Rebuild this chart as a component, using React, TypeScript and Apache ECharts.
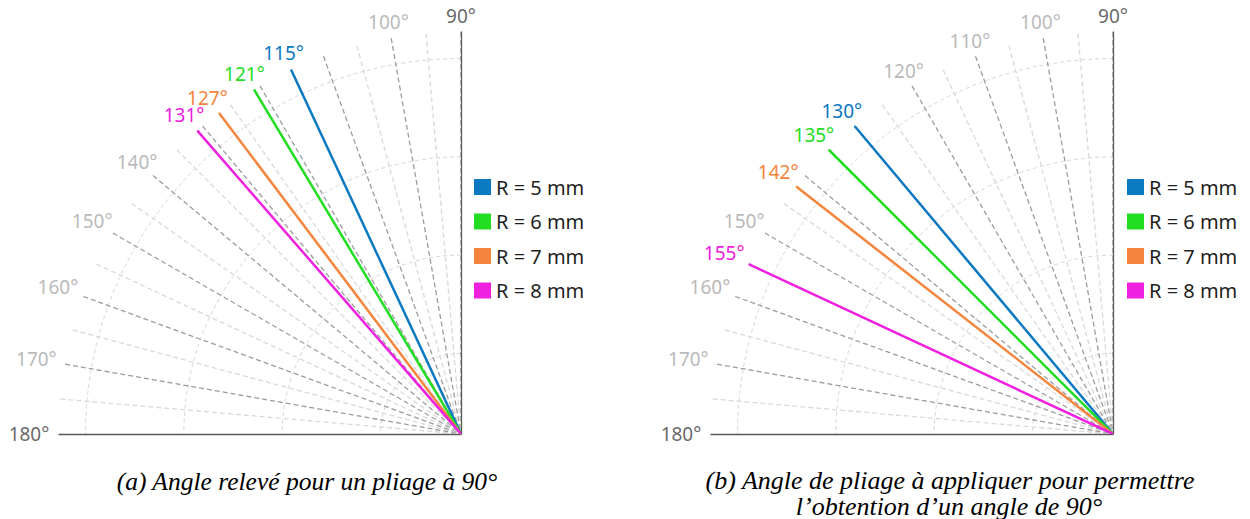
import React, { useEffect, useRef } from 'react';
import * as echarts from 'echarts';

// ---- data ----
const seriesNames = ['R = 5 mm', 'R = 6 mm', 'R = 7 mm', 'R = 8 mm'];
const seriesColors = ['#0b78c2', '#22dd22', '#f5843c', '#f020e0'];
const measuredAngles = [115, 121, 127, 131]; // (a) angle relevé
const appliedAngles = [130, 135, 142, 155]; // (b) angle à appliquer
const angleTickLabels = [90, 100, 110, 120, 130, 140, 150, 160, 170, 180];
const hiddenLabelsA = [110, 120, 130];
const hiddenLabelsB = [130, 140];
const captionA = '(a) Angle relevé pour un pliage à 90°';
const captionB1 = '(b) Angle de pliage à appliquer pour permettre';
const captionB2 = 'l’obtention d’un angle de 90°';

const ANGLE_MIN = 90;
const ANGLE_MAX = 180;
const ANGLE_STEP = 5;
const RADIUS_MIN = -0.82;
const RADIUS_MAX = 3.27;

const FONT = 'Noto Sans';
const LABEL_GRAY = '#a6a6a6';
const LABEL_DARK = '#404040';
const AXIS_DARK = '#595959';
const GRID_DARK = '#9c9c9c';
const GRID_LIGHT = '#d9d9d9';

const CENTERS = [
  [461, 434],
  [1113, 434],
];
const RADIUS_PX = 402;

// distance (px) between the outer edge and the centre of a label, by direction
function labelGap(angleDeg: number) {
  const c = Math.cos((angleDeg * Math.PI) / 180);
  return 16 + 14 * c * c * c * c;
}
function labelOffset(angleDeg: number, extra = 0) {
  const rad = (angleDeg * Math.PI) / 180;
  const g = labelGap(angleDeg) + extra;
  return [g * Math.cos(rad), -g * Math.sin(rad)];
}

// one colour per radial split line (90°, 95°, ... 180°); the 180° one is the solid axis
function radialColors() {
  const out: string[] = [];
  for (let v = ANGLE_MIN; v <= ANGLE_MAX; v += ANGLE_STEP) {
    if (v === ANGLE_MAX) out.push('rgba(0,0,0,0)');
    else out.push(v % 10 === 0 ? GRID_DARK : GRID_LIGHT);
  }
  return out;
}

function angleAxis(polarIndex: number) {
  return {
    polarIndex,
    type: 'value',
    min: ANGLE_MIN,
    max: ANGLE_MAX,
    interval: ANGLE_STEP,
    startAngle: 90,
    endAngle: 180,
    clockwise: false,
    axisLine: { show: false },
    axisTick: { show: false },
    axisLabel: { show: false },
    splitLine: {
      show: true,
      lineStyle: { color: radialColors(), type: [5, 3], width: 1.3 },
    },
  };
}

// helper polar whose radius axis line lies along the 180° direction
function baseAngleAxis(polarIndex: number) {
  return {
    polarIndex,
    type: 'value',
    min: 0,
    max: 1,
    startAngle: 180,
    endAngle: 270,
    clockwise: false,
    axisLine: { show: false },
    axisTick: { show: false },
    axisLabel: { show: false },
    splitLine: { show: false },
  };
}

function radiusAxis(polarIndex: number) {
  return {
    polarIndex,
    type: 'value',
    min: RADIUS_MIN,
    max: RADIUS_MAX,
    splitNumber: 4,
    minInterval: 1,
    maxInterval: 1,
    axisLine: { show: true, lineStyle: { color: AXIS_DARK, width: 1.3 } },
    axisTick: { show: false },
    axisLabel: { show: false },
    splitLine: {
      show: true,
      lineStyle: {
        color: ['rgba(0,0,0,0)', '#d6d6d6', '#d6d6d6', '#d6d6d6', '#d6d6d6', 'rgba(0,0,0,0)'],
        type: [4, 3],
        width: 1,
      },
    },
  };
}

function baseRadiusAxis(polarIndex: number) {
  return {
    polarIndex,
    type: 'value',
    min: RADIUS_MIN,
    max: RADIUS_MAX,
    axisLine: { show: true, lineStyle: { color: AXIS_DARK, width: 1.3 } },
    axisTick: { show: false },
    axisLabel: { show: false },
    splitLine: { show: false },
  };
}

function chartSeries(polarIndex: number, angles: number[], hidden: number[]) {
  const out: any[] = [];
  // angle tick labels
  out.push({
    type: 'scatter',
    name: '_ticks',
    coordinateSystem: 'polar',
    polarIndex,
    silent: true,
    clip: false,
    symbol: 'circle',
    symbolSize: 1,
    itemStyle: { color: 'rgba(0,0,0,0)' },
    z: 5,
    data: angleTickLabels
      .filter((v) => hidden.indexOf(v) < 0)
      .map((v) => ({
        value: [RADIUS_MAX, v],
        label: {
          show: true,
          position: 'inside',
          offset: labelOffset(v),
          formatter: v + '°',
          color: v === ANGLE_MIN || v === ANGLE_MAX ? LABEL_DARK : LABEL_GRAY,
          fontSize: 19,
          lineHeight: 18,
          fontFamily: FONT,
        },
      })),
  });
  angles.forEach((a, i) => {
    out.push({
      type: 'line',
      name: seriesNames[i],
      coordinateSystem: 'polar',
      polarIndex,
      clip: false,
      symbol: 'circle',
      symbolSize: 1,
      showSymbol: true,
      itemStyle: { color: seriesColors[i] },
      lineStyle: { color: seriesColors[i], width: 2.5 },
      z: 4,
      data: [
        { value: [RADIUS_MIN, a] },
        {
          value: [RADIUS_MAX, a],
          label: {
            show: true,
            position: 'inside',
            offset: labelOffset(a, 1.5),
            formatter: a + '°',
            color: seriesColors[i],
            fontSize: 19,
            lineHeight: 18,
            fontFamily: FONT,
          },
        },
      ],
    });
  });
  return out;
}

function legend(left: number) {
  return {
    orient: 'vertical',
    left,
    top: 177,
    padding: 0,
    itemWidth: 17,
    itemHeight: 16,
    itemGap: 14.5,
    icon: 'rect',
    data: seriesNames,
    textStyle: { fontSize: 20, fontFamily: FONT, color: '#1f1f1f' },
  };
}

function caption(text: string, x: number, y: number, size: number) {
  return {
    type: 'text',
    x,
    y,
    style: {
      text,
      fontFamily: 'Liberation Serif',
      fontStyle: 'italic',
      fontSize: size,
      lineHeight: size,
      fill: '#000',
      textAlign: 'center',
      textVerticalAlign: 'middle',
    },
  };
}

export default function App() {
  const ref = useRef<HTMLDivElement>(null);
  useEffect(() => {
    if (!ref.current) return;
    const chart = echarts.init(ref.current, null, { renderer: 'svg' });
    chart.setOption({
      animation: false,
      backgroundColor: '#ffffff',
      polar: [
        { center: CENTERS[0], radius: RADIUS_PX },
        { center: CENTERS[1], radius: RADIUS_PX },
        { center: CENTERS[0], radius: RADIUS_PX },
        { center: CENTERS[1], radius: RADIUS_PX },
      ],
      angleAxis: [angleAxis(0), angleAxis(1), baseAngleAxis(2), baseAngleAxis(3)],
      radiusAxis: [radiusAxis(0), radiusAxis(1), baseRadiusAxis(2), baseRadiusAxis(3)],
      legend: [legend(474), legend(1127)],
      series: [
        ...chartSeries(0, measuredAngles, hiddenLabelsA),
        ...chartSeries(1, appliedAngles, hiddenLabelsB),
      ],
      graphic: [
        caption(captionA, 307, 481, 25.5),
        caption(captionB1, 950, 480.5, 26),
        caption(captionB2, 949, 506, 26),
      ],
    });
    return () => chart.dispose();
  }, []);
  return (
    <div
      ref={ref}
      style={{ position: 'fixed', left: 0, top: 0, width: 1250, height: 519 }}
    />
  );
}
